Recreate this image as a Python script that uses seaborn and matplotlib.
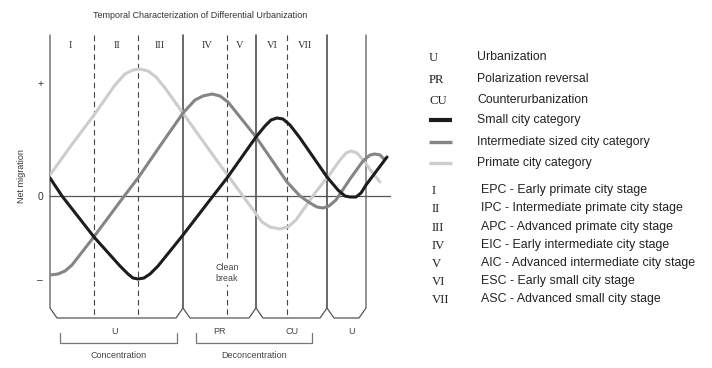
import pandas as pd
import matplotlib.pyplot as plt
import seaborn as sns

sns.set_style('white')
plt.rcParams['font.family'] = ['Liberation Sans', 'DejaVu Sans']

# data: time (arbitrary units along the cycle) and net migration
primate_t = [0, 20, 44, 65, 75, 83, 90, 98, 106, 115, 140, 165, 193, 212, 220, 230, 238, 246,
             265, 280, 290, 296, 301, 307, 314, 322, 330]
primate_y = [21, 49, 81, 111, 122, 126, 127, 125, 119, 108, 73, 38, 0, -26, -31, -33, -31, -24,
             3, 22, 36, 43, 45, 43, 35, 24, 14]

inter_t = [0, 8, 15, 22, 43, 75, 88, 110, 133, 145, 153, 162, 170, 178, 206, 237, 250, 260,
           267, 273, 279, 286, 300, 313, 320, 325, 330, 334]
inter_y = [-79, -78, -75, -69, -42, 1, 18, 50, 83, 96, 100, 102, 100, 94, 59, 14, 0, -7,
           -11, -12, -10, -4, 17, 35, 41, 42, 41, 37]

small_t = [0, 12, 44, 70, 78, 83, 88, 94, 100, 108, 133, 163, 177, 206, 215, 221, 227, 233,
           240, 250, 277, 288, 295, 300, 306, 311, 316, 337]
small_y = [18, 0, -41, -70, -78, -82, -83, -82, -78, -70, -39, 0, 18, 59, 70, 76, 78, 77,
           71, 58, 19, 6, 0, -1, -1, 3, 11, 39]

categories = ['Primate city category', 'Intermediate sized city category', 'Small city category']
colors = {'Primate city category': '#cdcdcd',
          'Intermediate sized city category': '#858585',
          'Small city category': '#1c1c1c'}

# stage boundaries
solid_x = [0, 133, 206, 277, 316]
dashed_x = [44, 88, 177, 237]
stage_labels = ['I', 'II', 'III', 'IV', 'V', 'VI', 'VII']
stage_x = [20, 67, 110, 157, 190, 222, 255]

legend_codes = ['U', 'PR', 'CU']
legend_code_text = ['Urbanization', 'Polarization reversal', 'Counterurbanization']
stage_text = ['EPC - Early primate city stage',
              'IPC - Intermediate primate city stage',
              'APC - Advanced primate city stage',
              'EIC - Early intermediate city stage',
              'AIC - Advanced intermediate city stage',
              'ESC - Early small city stage',
              'ASC - Advanced small city stage']

df = pd.concat([
    pd.DataFrame({'time': primate_t, 'net': primate_y, 'category': categories[0]}),
    pd.DataFrame({'time': inter_t, 'net': inter_y, 'category': categories[1]}),
    pd.DataFrame({'time': small_t, 'net': small_y, 'category': categories[2]}),
])

fig = plt.figure(figsize=(7.12, 3.68), dpi=100)
ax = fig.add_axes([50 / 712, 1 - 318 / 368, 341 / 712, 283 / 368])

line_col = '#555555'
ax.axhline(0, color=line_col, lw=0.9, zorder=1)

# panels with chamfered bottoms
for a, b in zip(solid_x[:-1], solid_x[1:]):
    ax.plot([a, a, a + 7, b - 7, b, b], [161, -112, -122, -122, -112, 161],
            color=line_col, lw=0.9, zorder=1, clip_on=False)
for x in dashed_x:
    ax.plot([x, x], [161, -122], color='#444444', lw=0.8, ls=(0, (5, 3.5)), zorder=1, clip_on=False)

sns.lineplot(data=df, x='time', y='net', hue='category', palette=colors, sort=False,
             estimator=None, lw=2.2, legend=False, ax=ax, zorder=3)

for lab, x in zip(stage_labels, stage_x):
    ax.text(x, 150, lab, ha='center', va='center', fontsize=7.5, family='Liberation Serif', color='#333333')

ax.text(177, -77, 'Clean\nbreak', ha='center', va='center', fontsize=6.4, color='#444444',
        linespacing=1.15, zorder=4,
        bbox=dict(facecolor='white', edgecolor='none', pad=1.5))

ax.set_xlim(0, 341)
ax.set_ylim(-122, 161)
ax.set_xticks([])
ax.set_yticks([113, 0, -83])
ax.set_yticklabels(['+', '0', '\u2013'], fontsize=7.5, color='#333333')
ax.tick_params(axis='y', length=0, pad=5)
ax.set_xlabel('')
ax.set_ylabel('Net migration', fontsize=6.5, color='#333333', labelpad=8)
for s in ax.spines.values():
    s.set_visible(False)
ax.patch.set_alpha(0)

# overlay in pixel coordinates for the annotations and legend
ov = fig.add_axes([0, 0, 1, 1])
ov.set_xlim(0, 712)
ov.set_ylim(368, 0)
ov.axis('off')
ov.patch.set_alpha(0)

ov.text(200, 16, 'Temporal Characterization of Differential Urbanization', ha='center', va='center',
        fontsize=6.5, color='#333333')

for lab, x in zip(['U', 'PR', 'CU', 'U'], [115, 220, 292, 352]):
    ov.text(x, 332, lab, ha='center', va='center', fontsize=6.5, color='#444444')
for x0, x1, lab in [(60, 177, 'Concentration'), (196, 312, 'Deconcentration')]:
    ov.plot([x0, x0, x1, x1], [333, 343, 343, 333], color='#777777', lw=0.9)
    ov.text((x0 + x1) / 2, 356, lab, ha='center', va='center', fontsize=6.5, color='#444444')

leg_y1 = [57, 79, 100]
for code, txt, y in zip(legend_codes, legend_code_text, leg_y1):
    ov.text(429, y + 1, code, ha='left', va='center', fontsize=9.2, family='Liberation Serif', color='#222222')
    ov.text(477, y, txt, ha='left', va='center', fontsize=8.8, color='#222222')

leg_y2 = [120, 142, 163]
leg_w = [3.0, 2.4, 2.4]
for cat, y, w in zip(categories[::-1], leg_y2, leg_w):
    ov.plot([429, 452], [y, y], color=colors[cat], lw=w, solid_capstyle='butt')
    ov.text(477, y, cat, ha='left', va='center', fontsize=8.8, color='#222222')

leg_y3 = [190, 208, 227, 245, 263, 281, 299]
for lab, txt, y in zip(stage_labels, stage_text, leg_y3):
    ov.text(432, y + 1, lab, ha='left', va='center', fontsize=9.2, family='Liberation Serif', color='#222222')
    ov.text(481, y, txt, ha='left', va='center', fontsize=8.9, color='#222222')

plt.savefig('out.png', dpi=100)
